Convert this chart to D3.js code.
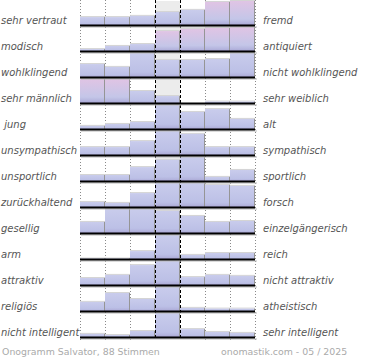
<!DOCTYPE html>
<html><head><meta charset="utf-8">
<script src="https://cdn.jsdelivr.net/npm/d3@7"></script>
<style>body{margin:0;background:#fff}svg{display:block}text{white-space:pre}</style>
</head><body>
<svg id="c" width="370" height="360"></svg>
<script>
const leftLabels = ["sehr vertraut","modisch","wohlklingend","sehr männlich"," jung","unsympathisch","unsportlich","zurückhaltend","gesellig","arm","attraktiv","religiös","nicht intelligent"];
const rightLabels = ["fremd","antiquiert","nicht wohlklingend","sehr weiblich","alt","sympathisch","sportlich","forsch","einzelgängerisch","reich","nicht attraktiv","atheistisch","sehr intelligent"];
// bar heights, percent of the row maximum, 7 steps per row
const row0 = [33,33,38,54,63,96,100];
const row1 = [8,21,29,83,92,96,100];
const row2 = [54,42,100,71,71,75,100];
const row3 = [100,100,50,29,0,6,6];
const row4 = [13,21,29,100,71,83,42];
const row5 = [33,33,58,100,88,33,33];
const row6 = [25,25,58,88,100,17,46];
const row7 = [21,17,58,100,100,92,88];
const row8 = [46,100,100,92,71,46,50];
const row9 = [2,2,33,100,17,25,25];
const row10 = [29,42,83,100,33,42,38];
const row11 = [38,75,50,100,13,10,10];
const row12 = [13,8,25,100,33,21,17];
const values = [row0,row1,row2,row3,row4,row5,row6,row7,row8,row9,row10,row11,row12];
// steps with the strongest share (drawn in the pink tone)
const strong = [[5,6],[3,4,5,6],[],[0,1],[],[],[],[],[],[],[],[],[]];
const footerLeft = "Onogramm Salvator, 88 Stimmen";
const footerRight = "onomastik.com - 05 / 2025";

const svg = d3.select("#c");
const steps = d3.range(7);
const x = d3.scaleBand().domain(steps).range([80,255]).paddingInner(0).paddingOuter(0);
const rowY = d3.scaleLinear().domain([0,1]).range([25,51]); // baseline per row
const h = d3.scaleLinear().domain([0,100]).range([0,24]);

const defs = svg.append("defs");
function grad(id, stops){
  const g = defs.append("linearGradient").attr("id",id).attr("x1",0).attr("y1",0).attr("x2",0).attr("y2",1);
  stops.forEach(s=>g.append("stop").attr("offset",s[0]).attr("stop-color",s[1]));
}
grad("gBlue",[["0%","#c9ccec"],["80%","#bcc0e6"],["93%","#b2b2dc"],["100%","#a29ccc"]]);
grad("gPink",[["0%","#e0c4e4"],["75%","#c4c6e8"],["93%","#b2b2dc"],["100%","#a29ccc"]]);

const base = i => rowY(i);

// center column background
svg.append("g").selectAll("rect").data(values).join("rect")
  .attr("x", x(3)).attr("width", x.bandwidth())
  .attr("y",(d,i)=>base(i)-24).attr("height",24).attr("fill","#ececec");

// dotted grid
const bounds = d3.range(8).map(k=> k<7 ? x(k) : x(6)+x.bandwidth());
svg.append("g").selectAll("line").data(bounds.filter((b,k)=>k!==3&&k!==4)).join("line")
  .attr("x1",d=>d+0.5).attr("x2",d=>d+0.5).attr("y1",0).attr("y2",340)
  .attr("stroke","#8a8a8a").attr("stroke-dasharray","1,2");

// bars
values.forEach((row,i)=>{
  const g = svg.append("g");
  const data = row.map((v,k)=>({v,k,pink:strong[i].includes(k)}));
  g.selectAll("line.top").data(data.filter(d=>d.v>0)).join("line")
    .attr("x1",d=>x(d.k)).attr("x2",d=>x(d.k)+x.bandwidth())
    .attr("y1",d=>base(i)-h(d.v)-0.5).attr("y2",d=>base(i)-h(d.v)-0.5)
    .attr("stroke","#d4d4d4");
  g.selectAll("rect").data(data.filter(d=>d.v>0)).join("rect")
    .attr("x",d=>x(d.k)).attr("width",x.bandwidth())
    .attr("y",d=>base(i)-h(d.v)).attr("height",d=>h(d.v))
    .attr("fill",d=>d.pink?"url(#gPink)":"url(#gBlue)");
  g.selectAll("line.edge").data(data.filter(d=>d.v>0)).join("line")
    .attr("x1",d=>x(d.k)+x.bandwidth()-0.5).attr("x2",d=>x(d.k)+x.bandwidth()-0.5)
    .attr("y1",d=>base(i)-h(d.v)).attr("y2",base(i))
    .attr("stroke","#959595");
});

// dashed center lines
svg.append("g").selectAll("line").data([bounds[3],bounds[4]]).join("line")
  .attr("x1",d=>d+0.5).attr("x2",d=>d+0.5).attr("y1",0).attr("y2",340)
  .attr("stroke","#000").attr("stroke-dasharray","3,2");

// baselines
const bl = svg.append("g");
bl.selectAll("line.sh").data(values).join("line")
  .attr("x1",81).attr("x2",257).attr("y1",(d,i)=>base(i)+2).attr("y2",(d,i)=>base(i)+2)
  .attr("stroke","#b8b8b8");
bl.selectAll("line.bk").data(values).join("line")
  .attr("x1",80).attr("x2",255).attr("y1",(d,i)=>base(i)+0.5).attr("y2",(d,i)=>base(i)+0.5)
  .attr("stroke","#000").attr("stroke-width",2);

// labels
const font = "DejaVu Sans";
svg.append("g").selectAll("text").data(leftLabels).join("text")
  .attr("x",1).attr("y",(d,i)=>base(i)-1.5).text(d=>d)
  .attr("font-family",font).attr("font-size",10).attr("font-style","italic").attr("fill","#555");
svg.append("g").selectAll("text").data(rightLabels).join("text")
  .attr("x",263).attr("y",(d,i)=>base(i)-1.5).text(d=>d)
  .attr("font-family",font).attr("font-size",10).attr("font-style","italic").attr("fill","#555");

svg.append("text").attr("x",2).attr("y",355).text(footerLeft)
  .attr("font-family",font).attr("font-size",9.4).attr("fill","#aaa");
svg.append("text").attr("x",221).attr("y",355).text(footerRight)
  .attr("font-family",font).attr("font-size",9.4).attr("fill","#aaa");
</script>
</body></html>
